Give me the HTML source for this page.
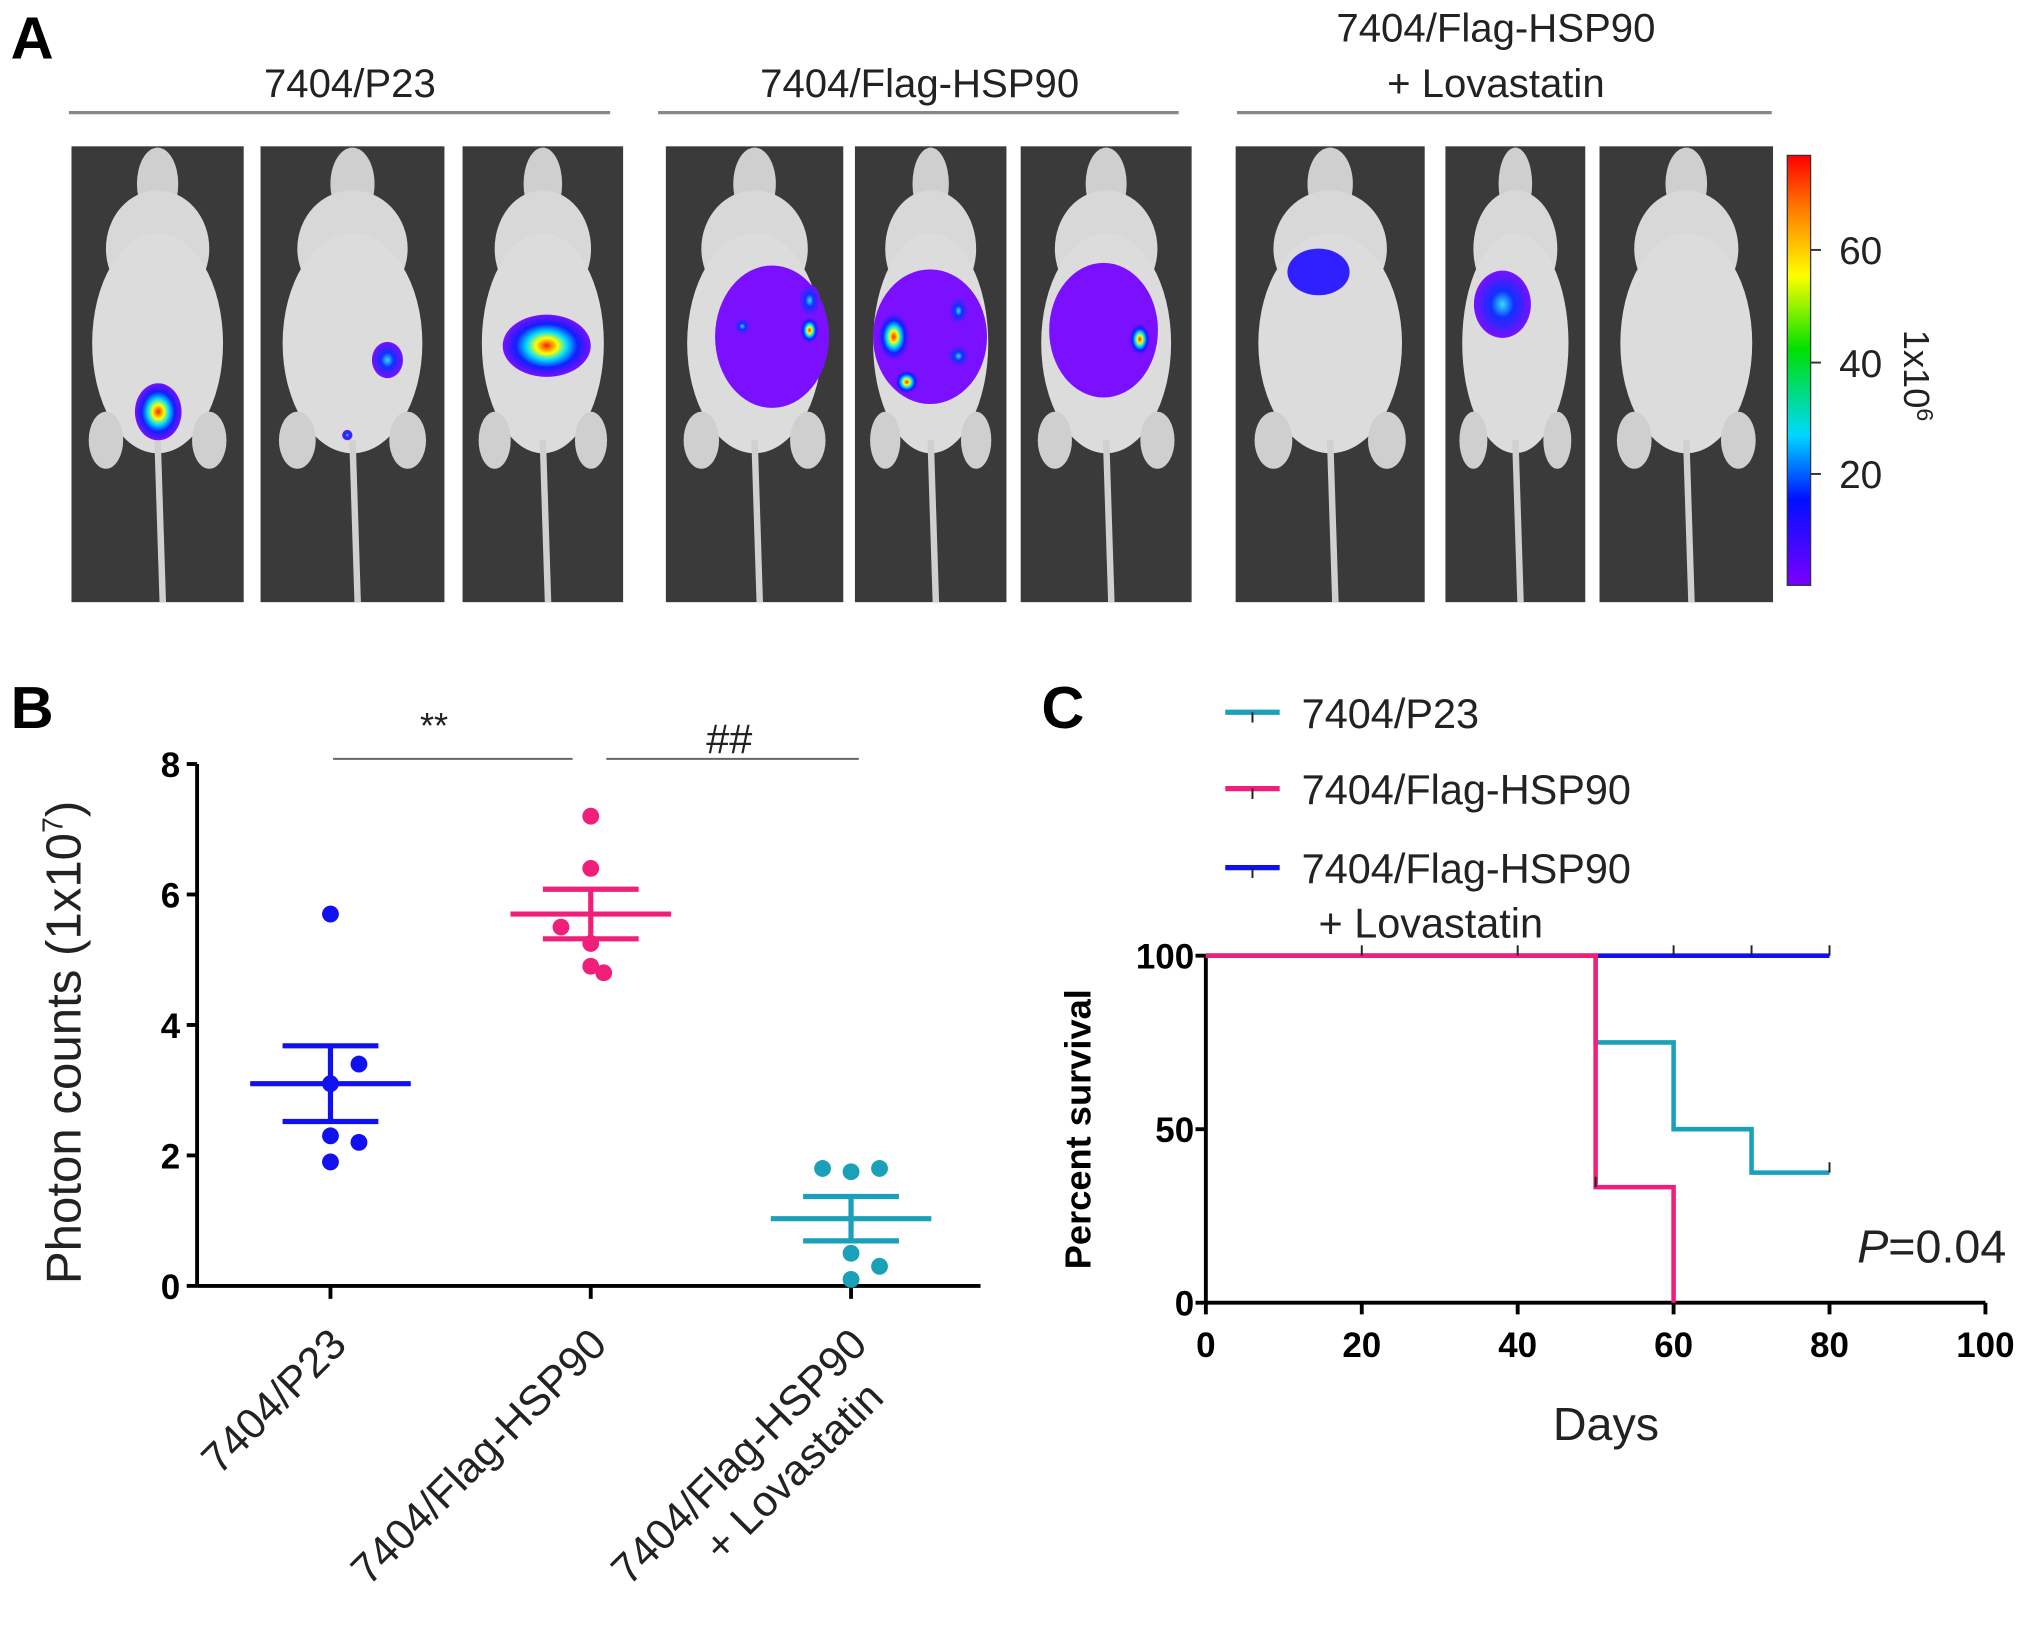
<!DOCTYPE html>
<html><head><meta charset="utf-8"><style>
html,body{margin:0;padding:0;background:#fff}
svg{display:block;font-family:"Liberation Sans",Arial,sans-serif}
</style></head><body>
<svg id="fig" width="2031" height="1642" viewBox="0 0 1568 1268" xmlns="http://www.w3.org/2000/svg">
<defs>
<linearGradient id="cb" x1="0" y1="1" x2="0" y2="0">
<stop offset="0" stop-color="#7a00ff"/><stop offset="0.2" stop-color="#0010ff"/><stop offset="0.35" stop-color="#00d8ff"/><stop offset="0.55" stop-color="#00e000"/><stop offset="0.72" stop-color="#ffff00"/><stop offset="0.87" stop-color="#ff8000"/><stop offset="1" stop-color="#ff0000"/>
</linearGradient>
<radialGradient id="hot"><stop offset="0" stop-color="#ff2000"/><stop offset="0.25" stop-color="#ffff00"/><stop offset="0.45" stop-color="#00e0ff"/><stop offset="0.7" stop-color="#1020ff"/><stop offset="1" stop-color="#7a10ff"/></radialGradient>
<radialGradient id="cool"><stop offset="0" stop-color="#30e0ff"/><stop offset="0.4" stop-color="#1030ff"/><stop offset="1" stop-color="#7a10ff"/></radialGradient>
</defs>
<g id="panelA"></g>
<g id="panelB"></g>
<g id="panelC"></g>
</svg>
<script>
// ---------- Panel B data ----------
const groupsB = ["7404/P23","7404/Flag-HSP90","7404/Flag-HSP90 + Lovastatin"];
const pointsP23 = [5.7,3.4,3.1,2.3,2.2,1.9];
const pointsHSP = [7.2,6.4,5.5,5.25,4.9,4.8];
const pointsLova = [1.8,1.8,1.75,0.5,0.3,0.1];
const meansB = [3.1,5.7,1.03];
const semB = [0.58,0.38,0.34];
const yTicksB = [0,2,4,6,8];
// ---------- Panel C data ----------
const seriesP23 = [[0,100],[50,100],[50,75],[60,75],[60,50],[70,50],[70,37.5],[80,37.5]];
const seriesHSP = [[0,100],[50,100],[50,33.3],[60,33.3],[60,0]];
const seriesLova = [[0,100],[80,100]];
const censorLova = [20,40,60,70,80];
const xTicksC = [0,20,40,60,80,100];
const yTicksC = [0,50,100];

const NS="http://www.w3.org/2000/svg";
function mk(parent,tag,attrs,text){const e=document.createElementNS(NS,tag);for(const k in attrs)e.setAttribute(k,attrs[k]);if(text!==undefined)e.textContent=text;parent.appendChild(e);return e;}

// ---------- Panel A ----------
const A=document.getElementById('panelA');
let t=mk(A,'text',{x:8,y:45,'font-size':46,'font-weight':'bold'},'A');


const heads=[[270,[["7404/P23",75]],53,471],[710,[["7404/Flag-HSP90",75]],508,910],[1155,[["7404/Flag-HSP90",32],["+ Lovastatin",75]],955,1368]];
heads.forEach((h,i)=>{
  h[1].forEach(l=>{const tx=mk(A,'text',{x:h[0],y:l[1],'font-size':31,'text-anchor':'middle',fill:'#222'},l[0]);
    
    });
  const ln=mk(A,'line',{x1:h[2],x2:h[3],y1:87,y2:87,stroke:'#888','stroke-width':2.5});
  
  
});
const imgs=[[55,188],[201,343],[357,481],[514,651],[660,777],[788,920],[954,1100],[1116,1224],[1235,1369]];
const blobs=[
 [[122,318,18,22,'hot']],
 [[299,278,12,14,'cool'],[268,336,4,4,'cool']],
 [[422,267,34,24,'hot']],
 [[596,260,44,55,'#7a10ff'],[625,232,8,12,'cool'],[625,255,7,10,'hot'],[573,252,6,6,'cool']],
 [[718,260,44,52,'#7a10ff'],[690,260,12,18,'hot'],[700,295,9,9,'hot'],[740,275,8,8,'cool'],[740,240,7,10,'cool']],
 [[852,255,42,52,'#7a10ff'],[880,262,8,12,'hot']],
 [[1018,210,24,18,'#3020ff']],
 [[1160,235,22,26,'cool']],
 []
];
imgs.forEach((r,i)=>{
  const g=mk(A,'g',{});
  
  
  const w=r[1]-r[0],cx=(r[0]+r[1])/2;
  mk(g,'rect',{x:r[0],y:113,width:w,height:352,fill:'#3a3a3a'});
  mk(g,'ellipse',{cx:cx,cy:142,rx:w*0.12,ry:28,fill:'#cfcfcf'});
  mk(g,'ellipse',{cx:cx,cy:192,rx:w*0.3,ry:45,fill:'#d8d8d8'});
  mk(g,'ellipse',{cx:cx,cy:265,rx:w*0.38,ry:85,fill:'#dcdcdc'});
  mk(g,'ellipse',{cx:cx-w*0.3,cy:340,rx:w*0.1,ry:22,fill:'#cfcfcf'});
  mk(g,'ellipse',{cx:cx+w*0.3,cy:340,rx:w*0.1,ry:22,fill:'#cfcfcf'});
  mk(g,'line',{x1:cx,x2:cx+4,y1:340,y2:465,stroke:'#d0d0d0','stroke-width':5});
  blobs[i].forEach(b=>{const f=b[4].startsWith('#')?b[4]:'url(#'+b[4]+')';mk(g,'ellipse',{cx:b[0],cy:b[1],rx:b[2],ry:b[3],fill:f});});
});
const cbr=mk(A,'rect',{x:1380,y:120,width:18,height:332,fill:'url(#cb)',stroke:'#333','stroke-width':1});


[[60,193],[40,280],[20,366]].forEach(c=>{const tx=mk(A,'text',{x:1420,y:c[1]+11,'font-size':30,fill:'#222'},c[0]);
  
  
  mk(A,'line',{x1:1398,x2:1406,y1:c[1],y2:c[1],stroke:'#333','stroke-width':1.5});});
const cbt=mk(A,'text',{x:0,y:0,'font-size':28,fill:'#222',transform:'translate(1470,290) rotate(90)','text-anchor':'middle'});


cbt.innerHTML='1x10<tspan dy="-10" font-size="18">6</tspan>';

// ---------- Panel B ----------
const B=document.getElementById('panelB');
t=mk(B,'text',{x:8,y:562,'font-size':46,'font-weight':'bold'},'B');


const bx0=152,bx1=757,by0=993,by1=590;
const yB=v=>by0-(v/8)*(by0-by1);
const xB=i=>255+i*201;
let ax=mk(B,'line',{x1:bx0,x2:bx0,y1:by1,y2:by0,stroke:'#000','stroke-width':3});


ax=mk(B,'line',{x1:bx0,x2:bx1,y1:by0,y2:by0,stroke:'#000','stroke-width':3});


yTicksB.forEach(v=>{mk(B,'line',{x1:bx0-8,x2:bx0,y1:yB(v),y2:yB(v),stroke:'#000','stroke-width':3});
  const tx=mk(B,'text',{x:bx0-13,y:yB(v)+10,'font-size':27,'font-weight':'bold','text-anchor':'end'},v);
  
  });
const yt=mk(B,'text',{x:0,y:0,'font-size':38,'text-anchor':'middle',transform:'translate(62,805) rotate(-90)',fill:'#222'});


yt.innerHTML='Photon counts (1x10<tspan dy="-14" font-size="22">7</tspan><tspan dy="14">)</tspan>';
const colsB=['#1010f0','#f0207a','#1aa0b8'];
const ptsB=[pointsP23,pointsHSP,pointsLova];
const jit=[[0,22,0,0,22,0],[0,0,-23,0,0,10],[-22,22,0,0,22,0]];
ptsB.forEach((arr,i)=>{
  mk(B,'line',{x1:xB(i),x2:xB(i),y1:by0,y2:by0+10,stroke:'#000','stroke-width':3});
  const g=mk(B,'g',{});
  
  
  arr.forEach((v,j)=>{const c=mk(g,'circle',{cx:xB(i)+jit[i][j],cy:yB(v),r:6.5,fill:colsB[i]});
    
    });
  const m=mk(B,'line',{x1:xB(i)-62,x2:xB(i)+62,y1:yB(meansB[i]),y2:yB(meansB[i]),stroke:colsB[i],'stroke-width':4});
  
  
  const hi=meansB[i]+semB[i],lo=meansB[i]-semB[i];
  mk(B,'line',{x1:xB(i),x2:xB(i),y1:yB(hi),y2:yB(lo),stroke:colsB[i],'stroke-width':4});
  [hi,lo].forEach(v=>{const s=mk(B,'line',{x1:xB(i)-37,x2:xB(i)+37,y1:yB(v),y2:yB(v),stroke:colsB[i],'stroke-width':4});
    
    });
});
const xl=[["7404/P23"],["7404/Flag-HSP90"],["7404/Flag-HSP90","+ Lovastatin"]];
xl.forEach((ls,i)=>{
  const tx=mk(B,'text',{x:0,y:0,'font-size':33,'text-anchor':'end',fill:'#222',transform:`translate(${xB(i)+14},${1040}) rotate(-45)`});
  
  
  ls.forEach((l,k)=>{mk(tx,'tspan',{x:k?-20:0,dy:k?38:0},l);});
});
[[257,442,'**',335,570,28],[468,663,'##',563,582,32]].forEach(s=>{
  const l=mk(B,'line',{x1:s[0],x2:s[1],y1:586,y2:586,stroke:'#666','stroke-width':1.5});
  
  
  const tx=mk(B,'text',{x:s[3],y:s[4],'font-size':s[5],'text-anchor':'middle',fill:'#222'},s[2]);
  
  
});

// ---------- Panel C ----------
const C=document.getElementById('panelC');
t=mk(C,'text',{x:804,y:562,'font-size':46,'font-weight':'bold'},'C');


const cx0=931,cx1=1533,cy0=1006,cy1=738;
const xC=v=>cx0+v/100*(cx1-cx0);
const yC=v=>cy0-v/100*(cy0-cy1);
ax=mk(C,'line',{x1:cx0,x2:cx0,y1:cy1,y2:cy0,stroke:'#000','stroke-width':3});


ax=mk(C,'line',{x1:cx0,x2:cx1,y1:cy0,y2:cy0,stroke:'#000','stroke-width':3});


xTicksC.forEach(v=>{mk(C,'line',{x1:xC(v),x2:xC(v),y1:cy0,y2:cy0+9,stroke:'#000','stroke-width':3});
  const tx=mk(C,'text',{x:xC(v),y:1048,'font-size':27,'font-weight':'bold','text-anchor':'middle'},v);
  
  });
yTicksC.forEach(v=>{mk(C,'line',{x1:cx0-8,x2:cx0,y1:yC(v),y2:yC(v),stroke:'#000','stroke-width':3});
  const tx=mk(C,'text',{x:cx0-9,y:yC(v)+10,'font-size':27,'font-weight':'bold','text-anchor':'end'},v);
  
  });
let tt=mk(C,'text',{x:0,y:0,'font-size':28,'font-weight':'bold','text-anchor':'middle',transform:'translate(842,872) rotate(-90)'},'Percent survival');


tt=mk(C,'text',{x:1240,y:1112,'font-size':36,'text-anchor':'middle',fill:'#222'},'Days');


tt=mk(C,'text',{x:1434,y:975,'font-size':36,fill:'#222'});


tt.innerHTML='<tspan font-style="italic">P</tspan>=0.04';
function path(s){return s.map((p,i)=>(i?'L':'M')+xC(p[0])+' '+yC(p[1])).join(' ');}
let p=mk(C,'path',{d:path(seriesLova),fill:'none',stroke:'#1010f0','stroke-width':3.5});


p=mk(C,'path',{d:path(seriesP23),fill:'none',stroke:'#1aa0b8','stroke-width':3.5});


p=mk(C,'path',{d:path(seriesHSP),fill:'none',stroke:'#f0207a','stroke-width':3.5});


censorLova.forEach(v=>{const c=mk(C,'line',{x1:xC(v),x2:xC(v),y1:yC(100)-8,y2:yC(100),stroke:'#222','stroke-width':1.5});
  
  });
mk(C,'line',{x1:xC(80),x2:xC(80),y1:yC(37.5)-8,y2:yC(37.5),stroke:'#222','stroke-width':1.5});
mk(C,'line',{x1:xC(50),x2:xC(50),y1:yC(33.3)-8,y2:yC(33.3),stroke:'#222','stroke-width':1.5});
[['#1aa0b8',550,['7404/P23']],['#f0207a',609,['7404/Flag-HSP90']],['#1010f0',670,['7404/Flag-HSP90','+ Lovastatin']]].forEach(l=>{
  const g=mk(C,'g',{});
  
  
  mk(g,'line',{x1:946,x2:988,y1:l[1],y2:l[1],stroke:l[0],'stroke-width':4});
  mk(g,'line',{x1:967,x2:967,y1:l[1],y2:l[1]+8,stroke:'#222','stroke-width':1.5});
  l[2].forEach((s,k)=>mk(g,'text',{x:k?1018:1005,y:l[1]+12+k*42,'font-size':32,fill:'#222'},s));
});
</script>
</body></html>
